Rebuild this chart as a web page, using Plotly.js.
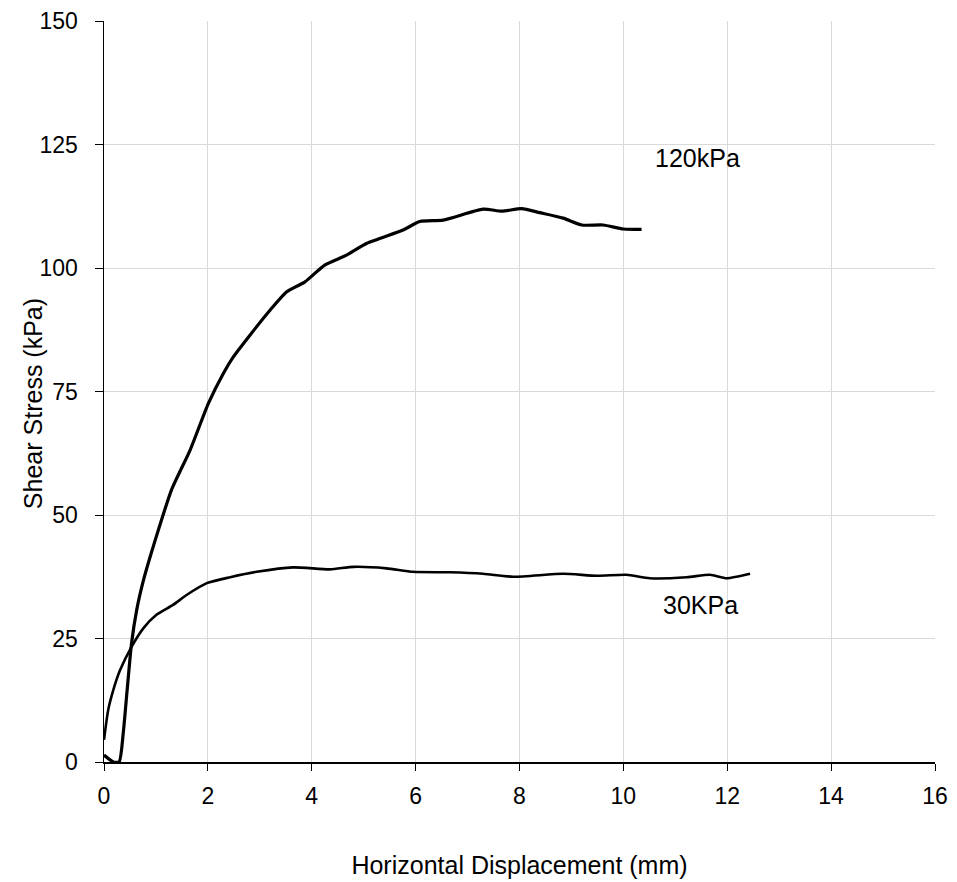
<!DOCTYPE html>
<html>
<head>
<meta charset="utf-8">
<script src="https://cdn.plot.ly/plotly-3.0.1.min.js"></script>
<style>html,body{margin:0;padding:0;background:#fff;}#chart{width:957px;height:882px;}</style>
</head>
<body>
<div id="chart"></div>
<script>
var x120 = [0, 0.18, 0.29, 0.37, 0.44, 0.53, 0.63, 0.76, 0.89, 1.06, 1.30, 1.66, 2.01, 2.30, 2.49, 2.81, 3.20, 3.52, 3.87, 4.25, 4.67, 5.06, 5.76, 6.08, 6.53, 7.30, 7.66, 8.04, 8.39, 8.84, 9.20, 9.61, 10.0, 10.35];
var y120 = [1.4, 0, 0, 5.8, 13.9, 24.0, 30.8, 36.8, 41.6, 47.4, 55.1, 63.2, 72.6, 78.7, 82.0, 86.4, 91.5, 95.2, 97.2, 100.6, 102.6, 105.0, 107.7, 109.4, 109.7, 111.9, 111.5, 112.0, 111.2, 110.1, 108.7, 108.7, 107.9, 107.8];
var x30 = [0, 0.08, 0.18, 0.31, 0.53, 0.76, 1.01, 1.33, 1.59, 1.98, 2.43, 2.94, 3.64, 4.35, 4.80, 5.44, 5.95, 6.66, 7.30, 7.88, 8.84, 9.49, 10.06, 10.51, 11.22, 11.67, 11.99, 12.44];
var y30 = [4.5, 10.5, 14.6, 18.6, 23.3, 27.1, 29.8, 31.8, 33.8, 36.2, 37.4, 38.5, 39.4, 39.0, 39.5, 39.2, 38.5, 38.4, 38.1, 37.5, 38.1, 37.7, 37.9, 37.2, 37.4, 37.9, 37.2, 38.1];
var seriesLabels = ["120kPa", "30KPa"];
var labelX = [11.42, 11.49];
var labelY = [122.3, 31.8];
var xTicks = [0, 2, 4, 6, 8, 10, 12, 14, 16];
var yTicks = [0, 25, 50, 75, 100, 125, 150];
var xTitle = "Horizontal Displacement (mm)";
var yTitle = "Shear Stress (kPa)";

var fam = "Liberation Sans, Arial, sans-serif";
var tickFont = {family: fam, size: 23, color: "#000"};
var titleFont = {family: fam, size: 25, color: "#000"};
var traces = [
  {x: x120, y: y120, mode: "lines", line: {color: "#000", width: 3.2, shape: "spline", smoothing: 0.6}, showlegend: false, hoverinfo: "skip"},
  {x: x30, y: y30, mode: "lines", line: {color: "#000", width: 2.6, shape: "spline", smoothing: 0.6}, showlegend: false, hoverinfo: "skip"}
];
var annotations = seriesLabels.map(function(t, i){
  return {x: labelX[i], y: labelY[i], xref: "x", yref: "y", text: t, showarrow: false, font: titleFont};
});
annotations.push({x: -0.0854, y: 0.483, xref: "paper", yref: "paper", text: yTitle, textangle: -90,
  showarrow: false, xanchor: "center", yanchor: "middle", font: titleFont});
var layout = {
  width: 957, height: 882,
  margin: {l: 104, r: 22, t: 21, b: 120},
  paper_bgcolor: "#fff", plot_bgcolor: "#fff",
  font: tickFont,
  showlegend: false,
  xaxis: {
    range: [0, 16], tickvals: xTicks, ticktext: xTicks.map(String),
    showgrid: true, gridcolor: "#d9d9d9", gridwidth: 1,
    zeroline: false, showline: true, linecolor: "#000", linewidth: 1.5,
    ticks: "outside", ticklen: 7, tickcolor: "#000", ticklabelstandoff: 6,
    title: {text: xTitle, font: titleFont, standoff: 48},
    tickfont: tickFont
  },
  yaxis: {
    range: [0, 150], tickvals: yTicks, ticktext: yTicks.map(String),
    showgrid: true, gridcolor: "#d9d9d9", gridwidth: 1,
    zeroline: false, showline: true, linecolor: "#000", linewidth: 1.5,
    ticks: "outside", ticklen: 8, tickcolor: "#000", ticklabelstandoff: 12,
    tickfont: tickFont
  },
  annotations: annotations
};
Plotly.newPlot("chart", traces, layout, {staticPlot: true, displayModeBar: false});
</script>
</body>
</html>
